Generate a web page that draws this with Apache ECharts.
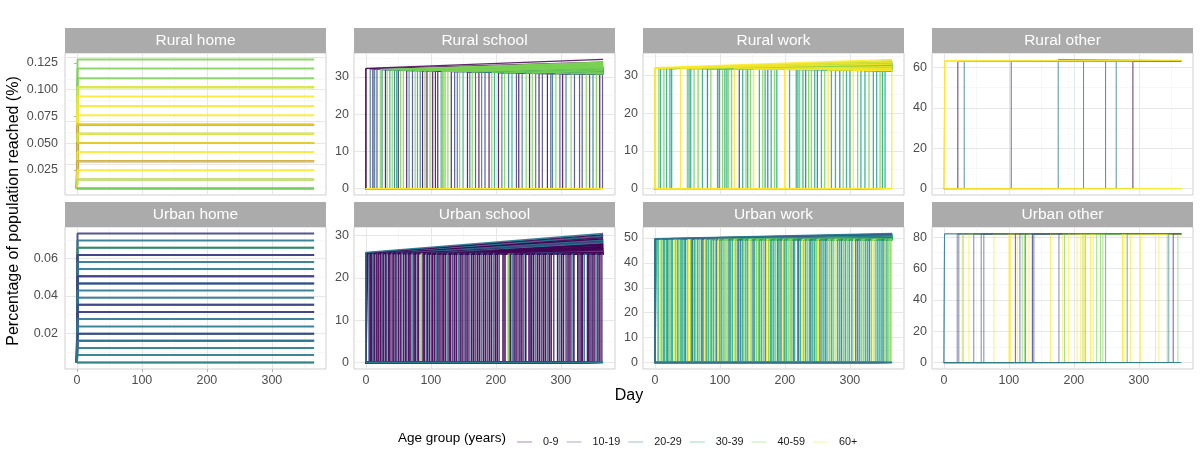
<!DOCTYPE html>
<html><head><meta charset="utf-8">
<script src="https://cdn.jsdelivr.net/npm/echarts@6.0.0/dist/echarts.min.js"></script>
<style>html,body{margin:0;padding:0;background:#fff}#c{width:1200px;height:461px}</style>
</head><body><div id="c"></div>
<script>
// ---------- data ----------
const ageGroups = ['0-9','10-19','20-29','30-39','40-59','60+'];
const ageColors = ['#440154','#414487','#2A788E','#22A884','#7AD151','#FDE725'];
const panelTitles = ['Rural home','Rural school','Rural work','Rural other','Urban home','Urban school','Urban work','Urban other'];
const dayRange = [0, 365];
const dayTicks = [0, 100, 200, 300];

const rhTicks = [0.025, 0.05, 0.075, 0.1, 0.125];
const rsTicks = [0, 10, 20, 30];
const rwTicks = [0, 10, 20, 30];
const roTicks = [0, 20, 40, 60];
const uhTicks = [0.02, 0.04, 0.06];
const usTicks = [0, 10, 20, 30];
const uwTicks = [0, 10, 20, 30, 40, 50];
const uoTicks = [0, 20, 40, 60, 80];

// starting level of every trajectory per panel
const rhBase = 0.0075, rsBase = 0, rwBase = 0, roBase = 0;
const uhBase = 0.0043, usBase = 0, uwBase = 0, uoBase = 0;

// each trajectory: [jump day, age group index, level right after jump, level at day 365]
// (jump day 365 = never jumps)
const rhLines = [[1,4,0.1281,0.1281],[1,4,0.1197,0.1197],[1,4,0.1106,0.1106],[1,4,0.1022,0.1022],[1,5,0.1022,0.1022],[1,5,0.0934,0.0934],[1,5,0.0847,0.0847],[1,5,0.0759,0.0759],[1,0,0.0672,0.0672],[1,5,0.0672,0.0672],[1,4,0.0588,0.0588],[1,5,0.0588,0.0588],[1,0,0.0500,0.0500],[1,5,0.0500,0.0500],[1,5,0.0416,0.0416],[1,0,0.0331,0.0331],[1,5,0.0331,0.0331],[1,5,0.0247,0.0247],[1,3,0.0159,0.0159],[1,5,0.0159,0.0159],[1,3,0.0075,0.0075],[1,4,0.0075,0.0075]];

const rsLines = [[6.7,2,32.0,32.4],[10.9,0,32.0,32.5],[13.5,2,32.0,32.3],[17.1,1,32.0,32.2],[22.3,4,32.0,34.0],[24.9,2,31.9,32.3],[30.1,0,31.9,32.6],[32.7,4,31.9,33.8],[36.9,3,31.9,33.5],[40.5,4,31.9,33.9],[44.1,2,31.8,32.2],[47.2,3,31.8,33.2],[49.8,0,31.8,32.4],[53.5,4,31.8,33.6],[57.6,4,31.8,33.3],[62.8,0,31.7,32.2],[66.5,3,31.7,33.0],[71.7,1,31.7,32.0],[75.8,4,31.7,33.4],[79.4,3,31.7,32.8],[83.6,2,31.7,32.1],[87.2,0,31.6,32.3],[90.9,4,31.6,33.1],[94.0,0,31.6,32.0],[98.7,4,31.6,32.9],[102.8,0,31.6,32.2],[107.0,0,31.5,31.9],[110.6,0,31.5,32.1],[115.8,3,31.5,32.7],[117.9,4,31.5,33.2],[119.9,4,31.5,32.6],[122.0,4,31.5,33.0],[126.2,4,31.5,32.4],[131.4,0,31.4,31.8],[136.6,1,31.4,31.7],[140.7,2,31.4,31.9],[144.3,4,31.4,32.8],[149.5,3,31.4,32.5],[156.3,0,31.3,31.7],[159.9,2,31.3,31.6],[163.6,4,31.3,32.6],[168.7,1,31.3,31.5],[173.9,0,31.3,31.7],[178.1,2,31.2,31.6],[183.3,1,31.2,31.5],[189.5,0,31.2,31.6],[193.7,4,31.2,32.3],[197.8,3,31.2,32.1],[204.0,0,31.1,31.5],[209.2,2,31.1,31.4],[213.4,4,31.1,32.0],[219.6,2,31.1,31.4],[224.8,3,31.1,31.9],[231.6,1,31.0,31.3],[235.2,0,31.0,31.4],[240.4,2,31.0,31.2],[246.6,4,31.0,31.8],[251.8,0,31.0,31.3],[256.0,4,31.0,31.6],[261.2,2,30.9,31.1],[266.4,0,30.9,31.2],[271.5,1,30.9,31.0],[279.3,0,30.9,31.1],[284.5,1,30.9,30.9],[287.1,2,30.9,31.0],[292.3,4,30.9,31.3],[298.5,1,30.8,30.9],[302.7,0,30.8,31.0],[307.9,2,30.8,30.9],[315.7,4,30.8,31.1],[320.9,1,30.8,30.9],[328.7,1,30.8,30.8],[332.8,1,30.8,30.9],[339.0,4,30.8,30.9],[344.2,1,30.8,30.8],[349.4,2,30.8,30.8],[354.6,4,30.8,30.8],[359.8,0,30.8,30.8],[364.0,1,30.8,30.8],[0,0,32.2,34.0],[0,0,32.3,34.7],[365,5,0,0],[365,5,0,0]];

const rwLines = [[6.2,4,31.8,33.6],[8.8,3,31.8,33.2],[13.9,4,31.8,33.8],[18.0,3,31.8,32.9],[23.2,3,31.8,33.4],[25.8,3,31.8,32.6],[39.7,5,31.8,33.0],[50.0,4,31.8,33.5],[52.6,3,31.8,32.8],[55.2,3,31.8,33.1],[60.3,4,31.8,32.4],[66.5,4,31.7,33.3],[73.2,3,31.7,32.7],[80.9,2,31.7,33.0],[86.1,4,31.7,32.2],[96.4,3,31.7,33.2],[99.0,2,31.7,32.5],[104.1,4,31.7,32.9],[107.7,3,31.7,33.4],[110.8,3,31.7,32.6],[112.9,4,31.7,32.0],[118.0,4,31.7,32.8],[122.2,5,31.7,32.3],[129.9,1,31.7,32.1],[135.1,3,31.7,33.0],[140.2,4,31.6,32.5],[142.8,3,31.6,32.2],[146.9,4,31.6,32.9],[152.1,5,31.6,31.9],[160.8,3,31.6,32.6],[166.0,4,31.6,32.1],[169.6,3,31.6,32.7],[173.7,2,31.6,31.8],[178.9,3,31.6,32.4],[184.0,4,31.6,32.0],[187.6,3,31.6,32.6],[199.5,5,31.5,31.7],[207.2,3,31.5,32.2],[217.5,3,31.5,32.5],[220.1,3,31.5,31.9],[222.7,4,31.5,32.3],[227.8,3,31.5,31.6],[232.0,2,31.5,32.0],[236.6,4,31.5,32.4],[240.7,4,31.5,31.8],[245.9,3,31.5,32.1],[250.0,2,31.5,31.5],[256.2,3,31.4,32.0],[261.3,4,31.4,31.6],[266.5,5,31.4,31.4],[271.6,3,31.4,31.9],[277.8,3,31.4,31.5],[284.5,2,31.4,31.7],[289.7,4,31.4,31.4],[294.8,3,31.3,31.6],[300.0,3,31.3,31.3],[305.2,5,31.3,31.3],[311.9,4,31.3,31.5],[317.0,3,31.3,31.2],[323.2,3,31.2,31.3],[329.4,4,31.2,31.2],[336.1,3,31.2,31.3],[341.2,3,31.2,31.1],[346.4,4,31.1,31.2],[350.0,3,31.1,31.1],[354.1,3,31.1,31.1],[364.4,5,31.0,31.0],[0,5,31.8,33.4],[0,5,31.9,33.8],[0,5,32.0,34.2],[365,5,0,0],[365,5,0,0]];

const roLines = [[21.5,0,63.0,63.2],[31.3,2,63.0,63.3],[103.6,1,63.0,63.2],[175.9,2,64.0,63.4],[214.9,2,63.1,63.3],[248.7,2,63.0,63.2],[265.1,2,63.1,63.3],[290.8,0,63.0,63.2],[1.5,5,63.0,63.2],[1.5,5,63.3,63.5],[1.5,5,63.5,63.7],[365,5,0,0],[365,5,0,0]];

const uhLines = [[1,1,0.0735,0.0735],[1,2,0.0697,0.0697],[1,4,0.0659,0.0659],[1,2,0.0659,0.0659],[1,1,0.0620,0.0620],[1,1,0.0620,0.0620],[1,2,0.0582,0.0582],[1,2,0.0544,0.0544],[1,1,0.0506,0.0506],[1,1,0.0506,0.0506],[1,2,0.0467,0.0467],[1,1,0.0467,0.0467],[1,2,0.0429,0.0429],[1,2,0.0391,0.0391],[1,2,0.0353,0.0353],[1,1,0.0353,0.0353],[1,1,0.0314,0.0314],[1,1,0.0314,0.0314],[1,2,0.0276,0.0276],[1,2,0.0236,0.0236],[1,2,0.0198,0.0198],[1,1,0.0198,0.0198],[1,1,0.0160,0.0160],[1,2,0.0160,0.0160],[1,2,0.0121,0.0121],[1,2,0.0083,0.0083],[1,4,0.0043,0.0043],[1,2,0.0043,0.0043]];

const usLines = [[1,0,25.8,29.8],[3,0,25.8,28.5],[5,1,25.8,29.1],[7,0,25.8,27.9],[9,0,25.8,28.8],[11,2,25.8,27.2],[13,0,25.8,29.5],[16,0,25.8,28.1],[18,1,25.8,26.9],[20,0,25.8,28.7],[23,0,25.8,27.5],[25,2,25.8,29.9],[27,0,25.8,26.4],[30,0,25.8,28.3],[32,1,25.8,27.8],[35,0,25.8,29.2],[37,0,25.8,26.8],[40,2,25.8,28.0],[42,0,25.8,27.3],[45,0,25.8,29.0],[47,1,25.8,26.6],[50,0,25.8,28.4],[53,0,25.8,27.0],[55,2,25.8,28.9],[58,0,25.8,26.2],[61,0,25.8,27.7],[63,1,25.8,28.6],[66,0,25.8,26.9],[68,0,25.8,27.4],[71,2,25.8,28.2],[74,0,25.8,26.5],[76,0,25.8,27.9],[79,1,25.8,26.3],[81,0,25.8,28.1],[85,4,25.7,26.0],[88,0,25.7,27.6],[90,0,25.7,26.8],[93,2,25.7,28.3],[95,0,25.7,26.1],[98,0,25.7,27.2],[101,1,25.7,26.7],[103,0,25.7,27.9],[106,0,25.7,26.4],[109,2,25.7,27.5],[111,0,25.7,26.0],[114,0,25.7,27.1],[117,1,25.7,26.6],[119,0,25.7,27.8],[122,0,25.7,26.3],[125,2,25.7,27.0],[128,0,25.7,26.2],[130,0,25.7,27.4],[133,1,25.7,25.9],[136,0,25.7,26.8],[139,0,25.7,27.3],[142,2,25.7,26.5],[145,0,25.7,26.1],[148,0,25.7,27.0],[151,1,25.7,26.4],[154,0,25.7,25.8],[157,0,25.7,26.9],[160,2,25.7,26.2],[163,0,25.7,26.7],[166,0,25.7,25.9],[169,1,25.7,26.5],[172,0,25.7,26.0],[175,0,25.7,26.6],[178,2,25.7,25.8],[181,0,25.7,26.3],[184,0,25.7,26.9],[187,1,25.7,25.9],[190,0,25.7,26.4],[193,0,25.7,26.1],[196,2,25.7,25.7],[199,0,25.7,26.2],[202,0,25.6,25.9],[205,1,25.6,26.3],[211,0,25.6,25.8],[214,0,25.6,26.0],[219,4,25.6,25.7],[222,0,25.6,25.9],[225,2,25.6,26.1],[228,0,25.6,25.7],[231,0,25.6,25.9],[234,1,25.6,25.6],[237,0,25.6,25.8],[240,0,25.6,26.0],[243,2,25.6,25.6],[246,0,25.6,25.7],[251,0,25.6,25.9],[253,1,25.6,25.6],[255,0,25.6,25.7],[258,0,25.6,25.8],[261,2,25.6,25.6],[264,0,25.6,25.6],[267,0,25.6,25.7],[270,1,25.6,25.6],[273,0,25.6,25.6],[276,0,25.6,25.7],[279,2,25.6,25.6],[282,0,25.6,25.6],[285,0,25.6,25.6],[289,1,25.6,25.6],[295,0,25.6,25.6],[298,2,25.6,25.6],[301,0,25.6,25.6],[304,0,25.6,25.6],[308,1,25.6,25.6],[311,0,25.6,25.6],[314,0,25.6,25.6],[317,2,25.6,25.6],[320,0,25.6,25.6],[326,0,25.6,25.6],[328,1,25.6,25.6],[331,0,25.6,25.6],[333,0,25.6,25.6],[336,2,25.6,25.6],[341,0,25.6,25.6],[343,0,25.6,25.6],[345,1,25.6,25.6],[348,0,25.6,25.6],[351,0,25.6,25.6],[354,2,25.6,25.6],[357,0,25.6,25.6],[360,0,25.6,25.6],[363,1,25.6,25.6],[0,0,25.9,30.2],[0,2,26.0,30.5],[365,2,0,0],[365,2,0,0]];

const uwLines = [[1,2,49.6,51.6],[3,3,49.5,51.2],[5,3,49.5,51.4],[8,5,49.5,50.8],[10,4,49.5,51.0],[13,3,49.5,51.5],[15,3,49.5,50.6],[18,3,49.5,50.9],[20,2,49.5,51.3],[22,4,49.5,50.4],[25,3,49.5,51.1],[27,3,49.5,50.7],[30,5,49.5,50.2],[32,4,49.5,51.0],[35,3,49.5,50.5],[37,4,49.5,50.8],[40,3,49.5,50.1],[42,3,49.5,50.9],[45,3,49.5,50.3],[47,2,49.5,51.2],[50,4,49.5,50.6],[52,5,49.5,50.0],[55,4,49.5,50.7],[57,2,49.5,51.3],[58,2,49.5,51.0],[61,3,49.5,50.4],[63,4,49.5,49.9],[66,3,49.5,50.8],[69,4,49.5,50.2],[72,2,49.5,50.6],[74,2,49.5,50.9],[77,5,49.5,49.8],[79,3,49.5,50.5],[82,3,49.5,50.1],[85,4,49.4,50.7],[87,3,49.4,49.7],[90,3,49.4,50.4],[93,4,49.4,50.0],[95,2,49.4,50.8],[98,5,49.4,49.6],[100,3,49.4,50.3],[103,3,49.4,50.6],[106,4,49.4,49.9],[108,4,49.4,49.5],[111,4,49.4,50.2],[114,2,49.4,50.5],[116,3,49.4,49.8],[119,3,49.4,50.3],[122,5,49.4,49.5],[124,4,49.4,50.0],[127,3,49.4,50.4],[129,2,49.4,49.7],[132,2,49.4,50.6],[135,3,49.4,49.5],[137,4,49.4,50.1],[140,3,49.4,49.9],[143,3,49.4,50.3],[145,5,49.4,49.5],[148,4,49.4,49.8],[151,2,49.4,50.4],[153,3,49.4,50.0],[156,4,49.4,49.7],[159,4,49.4,49.4],[161,3,49.4,50.1],[164,3,49.4,49.8],[167,4,49.4,50.2],[170,2,49.4,49.9],[172,5,49.4,49.4],[175,4,49.4,49.6],[178,3,49.4,50.0],[180,3,49.4,49.7],[183,3,49.4,49.4],[186,4,49.4,49.9],[189,2,49.4,50.1],[191,3,49.4,49.6],[194,2,49.4,49.8],[197,5,49.4,49.4],[199,3,49.4,49.5],[202,3,49.4,49.9],[205,4,49.4,49.6],[208,4,49.4,49.4],[210,4,49.4,49.7],[213,2,49.4,49.9],[215,3,49.4,49.5],[220,2,49.4,50.0],[221,2,49.4,49.8],[224,3,49.4,49.6],[227,5,49.4,49.4],[229,4,49.4,49.5],[232,3,49.4,49.7],[235,4,49.4,49.4],[238,3,49.4,49.4],[240,2,49.4,49.6],[243,3,49.4,49.5],[246,3,49.4,49.4],[249,4,49.4,49.5],[252,5,49.4,49.4],[254,2,49.4,49.4],[257,3,49.4,49.5],[260,3,49.4,49.4],[263,2,49.4,49.5],[266,4,49.4,49.4],[269,4,49.4,49.4],[272,3,49.4,49.4],[275,4,49.4,49.4],[278,5,49.4,49.4],[281,3,49.4,49.4],[284,3,49.4,49.4],[287,2,49.4,49.4],[290,4,49.4,49.4],[293,3,49.4,49.4],[296,4,49.4,49.4],[299,3,49.4,49.4],[303,3,49.4,49.4],[306,5,49.4,49.4],[309,2,49.4,49.4],[312,2,49.4,49.4],[315,3,49.4,49.4],[318,4,49.4,49.4],[321,4,49.4,49.4],[324,3,49.4,49.4],[327,3,49.4,49.4],[330,2,49.4,49.4],[333,4,49.4,49.4],[336,5,49.4,49.4],[339,4,49.4,49.4],[342,3,49.4,49.4],[345,3,49.4,49.4],[348,3,49.4,49.4],[351,2,49.4,49.4],[354,4,49.4,49.4],[357,3,49.4,49.4],[360,4,49.4,49.4],[363,4,49.4,49.4],[0,1,49.6,51.5],[0,2,49.7,51.8],[365,1,0,0],[365,2,0,0]];

const uoLines = [[20.5,1,82,82],[23,1,82,82],[28,5,82,82],[29.7,4,82,82],[38.5,5,82,82],[46,1,82,82],[57.4,1,82,82],[61.5,1,82,82],[77,5,82,82],[100,5,82,82],[102.6,5,82,82],[110,0,82,82],[112.8,5,82,82],[117,1,82,82],[120.5,4,82,82],[124,4,82,82],[125.6,2,82,82],[130.8,5,82,82],[136,1,82,82],[136.5,1,82,82],[138.5,1,82,82],[164,5,82,82],[177,1,82,82],[183,5,82,82],[185.6,4,82,82],[192,5,82,82],[205,5,82,82],[210,5,82,82],[214,4,82,82],[216.4,5,82,82],[218,4,82,82],[225.6,5,82,82],[229.7,5,82,82],[235,4,82,82],[241,4,82,82],[244.6,4,82,82],[248.7,3,82,82],[274.4,5,82,82],[275,5,82,82],[277,5,82,82],[282,2,82,82],[287,5,82,82],[302.6,5,82,82],[325.6,5,82,82],[330.8,5,82,82],[343.6,4,82,82],[346,2,82,82],[352.8,0,82,82],[360,4,82,82],[1,2,82.0,82.2],[1,2,82.1,82.3],[365,2,0,0],[365,2,0,0]];

// ---------- layout & style ----------
const FONT = '"Liberation Sans", Arial, Helvetica, sans-serif';
const colLeft = [65, 354, 643, 932];
const panelW = 261, panelH = 142, stripH = 25;
const rowTop = [53, 227];

const panelDefs = [
  {lines: rhLines, base: rhBase, ticks: rhTicks, digits: 3, width: 2, opacity: 0.85, byGroup: false},
  {lines: rsLines, base: rsBase, ticks: rsTicks, digits: 0, width: 1.2, opacity: 0.85, byGroup: true},
  {lines: rwLines, base: rwBase, ticks: rwTicks, digits: 0, width: 1.3, opacity: 0.85, byGroup: true},
  {lines: roLines, base: roBase, ticks: roTicks, digits: 0, width: 1, opacity: 0.8, byGroup: false},
  {lines: uhLines, base: uhBase, ticks: uhTicks, digits: 2, width: 2, opacity: 0.9, byGroup: false},
  {lines: usLines, base: usBase, ticks: usTicks, digits: 0, width: 1.6, opacity: 0.92, byGroup: false},
  {lines: uwLines, base: uwBase, ticks: uwTicks, digits: 0, width: 1.5, opacity: 0.85, byGroup: false},
  {lines: uoLines, base: uoBase, ticks: uoTicks, digits: 0, width: 1, opacity: 0.65, byGroup: false}
];

function rgba(hex, a) {
  const n = parseInt(hex.slice(1), 16);
  return 'rgba(' + (n >> 16) + ',' + ((n >> 8) & 255) + ',' + (n & 255) + ',' + a + ')';
}
function minorOf(ticks, lo, hi) {
  const s = ticks[1] - ticks[0], out = [];
  for (let k = -1; k <= ticks.length; k++) {
    const v = ticks[0] + s * k + s / 2;
    if (v > lo && v < hi) out.push(v);
  }
  return out;
}

const grids = [], xAxes = [], yAxes = [], series = [], graphics = [];
const xSpan = dayRange[1] - dayRange[0];
const xMin = dayRange[0] - xSpan * 0.05, xMax = dayRange[1] + xSpan * 0.05;
const majorStyle = {color: '#E4E4E4', width: 0.9, type: 'solid'};
const minorStyle = {color: '#F1F1F1', width: 0.6, type: 'solid'};
const tickColor = '#B3B3B3', labelColor = '#4D4D4D';

panelDefs.forEach((p, i) => {
  const row = Math.floor(i / 4), col = i % 4;
  const L = colLeft[col], T = rowTop[row];
  grids.push({left: L, top: T, width: panelW, height: panelH, show: true,
    borderColor: '#CFCFCF', borderWidth: 1, backgroundColor: '#FFFFFF'});
  const vals = [p.base];
  p.lines.forEach(l => { vals.push(l[2], l[3]); });
  const lo = Math.min(...vals), hi = Math.max(...vals), pad = (hi - lo) * 0.05;
  const yMin = lo - pad, yMax = hi + pad;

  xAxes.push({type: 'value', gridIndex: i, min: xMin, max: xMax,
    axisLine: {show: false}, splitLine: {show: false},
    axisTick: {show: row === 1, customValues: dayTicks, length: 3, lineStyle: {color: tickColor}},
    axisLabel: {show: row === 1, customValues: dayTicks, margin: 5, fontSize: 12.5, color: labelColor, fontFamily: FONT}});
  yAxes.push({type: 'value', gridIndex: i, min: yMin, max: yMax,
    axisLine: {show: false}, splitLine: {show: false},
    axisTick: {show: true, customValues: p.ticks, length: 3, lineStyle: {color: tickColor}},
    axisLabel: {show: true, customValues: p.ticks, margin: col === 0 ? 7 : 5, fontSize: 12.5, color: labelColor, fontFamily: FONT,
      formatter: v => p.digits ? Number(v).toFixed(p.digits) : String(Math.round(v))}});

  const ml = [];
  minorOf(dayTicks, xMin, xMax).forEach(v => ml.push({xAxis: v, lineStyle: minorStyle}));
  minorOf(p.ticks, yMin, yMax).forEach(v => ml.push({yAxis: v, lineStyle: minorStyle}));
  dayTicks.forEach(v => ml.push({xAxis: v, lineStyle: majorStyle}));
  p.ticks.forEach(v => ml.push({yAxis: v, lineStyle: majorStyle}));
  series.push({type: 'line', name: 'grid' + i, xAxisIndex: i, yAxisIndex: i, z: 1,
    data: [[dayTicks[0], p.ticks[0]]], symbol: 'none', showSymbol: false, silent: true,
    lineStyle: {opacity: 0}, animation: false,
    markLine: {z: 1, silent: true, symbol: ['none', 'none'], label: {show: false}, animation: false,
      emphasis: {disabled: true}, data: ml}});

  // drawing order: by age group when the panel is drawn group by group
  const order = p.lines.map((l, k) => k);
  if (p.byGroup) order.sort((a, b) => (p.lines[a][1] - p.lines[b][1]) || (a - b));
  order.forEach(k => {
    const l = p.lines[k];
    const d = l[0], g = l[1], top = l[2], end = l[3];
    const data = d >= dayRange[1]
      ? [[dayRange[0], p.base], [dayRange[1], p.base]]
      : [[dayRange[0], p.base], [d, p.base], [d, top], [dayRange[1], end]];
    series.push({type: 'line', name: ageGroups[g], xAxisIndex: i, yAxisIndex: i, data: data, z: 3,
      symbol: 'none', showSymbol: false, silent: true, animation: false,
      itemStyle: {color: ageColors[g]},
      lineStyle: {color: ageColors[g], width: p.width, opacity: p.opacity},
      emphasis: {disabled: true}});
  });

  graphics.push({type: 'rect', silent: true, shape: {x: L, y: T - stripH, width: panelW, height: stripH},
    style: {fill: '#ABABAB'}});
  graphics.push({type: 'text', silent: true, style: {text: panelTitles[i], x: L + panelW / 2, y: T - stripH / 2 + 0.5,
    align: 'center', verticalAlign: 'middle', fill: '#FFFFFF', font: '15.5px ' + FONT}});
});

graphics.push({type: 'text', silent: true, x: 14, y: 211, rotation: Math.PI / 2,
  style: {text: 'Percentage of population reached (%)', x: 0, y: 0, align: 'center', verticalAlign: 'middle',
    fill: '#000000', font: '16px ' + FONT}});
graphics.push({type: 'text', silent: true, style: {text: 'Day', x: 629, y: 396, align: 'center', verticalAlign: 'middle',
  fill: '#000000', font: '16px ' + FONT}});
graphics.push({type: 'text', silent: true, style: {text: 'Age group (years)', x: 398, y: 438, align: 'left', verticalAlign: 'middle',
  fill: '#000000', font: '13.5px ' + FONT}});

const chart = echarts.init(document.getElementById('c'));
chart.setOption({
  animation: false,
  backgroundColor: '#FFFFFF',
  textStyle: {fontFamily: FONT},
  grid: grids, xAxis: xAxes, yAxis: yAxes, series: series, graphic: graphics,
  legend: {left: 512, top: 431.5, icon: 'path://M0,0h15v1h-15z M20.99,0h0.01v1h-0.01z', itemWidth: 21, itemHeight: 1.5, itemGap: 8,
    selectedMode: false,
    textStyle: {fontSize: 10.8, color: '#1A1A1A', fontFamily: FONT},
    data: ageGroups.map((n, k) => ({name: n, itemStyle: {color: rgba(ageColors[k], 0.45)}}))}
});
</script></body></html>
